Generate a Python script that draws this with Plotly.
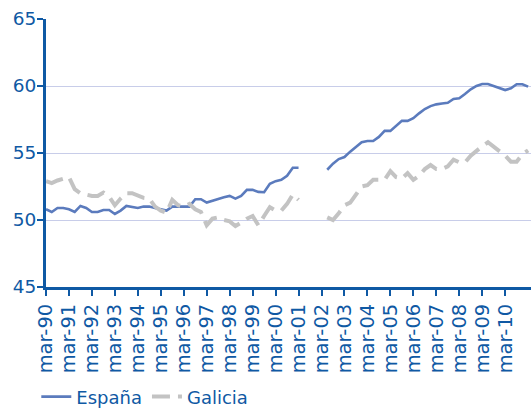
import plotly.graph_objects as go

# Quarterly series, mar-90 .. mar-11 (index 0 = mar-90); None = no data
espana = [
    50.8, 50.6, 50.9, 50.9,   # 1990
    50.8, 50.6, 51.05, 50.9,  # 1991
    50.6, 50.6, 50.75, 50.75, # 1992
    50.45, 50.7, 51.05, 51.0, # 1993
    50.9, 51.0, 51.0, 50.9,   # 1994
    50.8, 50.7, 51.0, 51.0,   # 1995
    51.0, 51.0, 51.55, 51.55, # 1996
    51.3, 51.45, 51.6, 51.7,  # 1997
    51.8, 51.6, 51.8, 52.25,  # 1998
    52.25, 52.1, 52.07, 52.7, # 1999
    52.9, 53.0, 53.3, 53.9,   # 2000
    53.9, None, None, None,   # 2001
    None, 53.75, 54.2, 54.55, # 2002
    54.7, 55.1, 55.47, 55.8,  # 2003
    55.9, 55.9, 56.2, 56.65,  # 2004
    56.65, 57.0, 57.4, 57.4,  # 2005
    57.6, 57.96, 58.28, 58.5, # 2006
    58.63, 58.7, 58.75, 59.03,# 2007
    59.08, 59.4, 59.75, 60.0, # 2008
    60.15, 60.15, 60.0, 59.87,# 2009
    59.7, 59.83, 60.13, 60.13,# 2010
    59.95,                    # 2011
]

galicia = [
    52.9, 52.75, 52.95, 53.1,
    53.2, 52.3, 52.0, 51.9,
    51.8, 51.8, 52.05, 51.75,
    51.1, 51.6, 52.0, 52.0,
    51.85, 51.65, 51.6, 51.0,
    50.7, 50.55, 51.5, 51.1,
    51.0, 51.2, 50.8, 50.6,
    49.6, 50.1, 50.2, 50.0,
    49.9, 49.55, 49.8, 50.1,
    50.3, 49.6, 50.3, 50.95,
    50.7, 50.7, 51.2, 51.9,
    51.5, None, None, None,
    None, 50.2, 50.0, 50.5,
    51.1, 51.3, 51.9, 52.5,
    52.6, 53.0, 53.0, 53.0,
    53.65, 53.2, 53.1, 53.5,
    53.0, 53.3, 53.8, 54.1,
    53.8, 53.8, 54.0, 54.5,
    54.3, 54.3, 54.8, 55.2,
    55.5, 55.8, 55.45, 55.1,
    54.8, 54.35, 54.35, 54.9,
    55.2,
]

tick_labels = ["mar-%02d" % (y % 100) for y in range(1990, 2011)]
tick_pos = [4 * k for k in range(len(tick_labels))]
x = list(range(len(espana)))

axis_blue = "#0f59a4"
font_family = "DejaVu Sans, sans-serif"

fig = go.Figure()
fig.add_trace(go.Scatter(
    x=x, y=espana, name="España", mode="lines",
    line=dict(color="#5b7bbd", width=2.6),
    connectgaps=False,
))
fig.add_trace(go.Scatter(
    x=x, y=galicia, name="Galicia", mode="lines",
    line=dict(color="#c3c3c3", width=4, dash="18px,8px"),
    connectgaps=False,
))

fig.update_layout(
    width=531, height=408,
    margin=dict(l=46, r=0, t=19, b=121, autoexpand=False),
    paper_bgcolor="white", plot_bgcolor="white",
    font=dict(family=font_family, color=axis_blue),
    showlegend=True,
    legend=dict(
        orientation="h", x=-0.02, y=-0.41, xanchor="left", yanchor="middle",
        font=dict(size=18, color=axis_blue), itemwidth=30,
        bgcolor="rgba(0,0,0,0)",
    ),
    xaxis=dict(
        range=[0, 84.5], tickmode="array", tickvals=tick_pos, ticktext=tick_labels,
        tickangle=-90, tickfont=dict(size=19.5, color=axis_blue),
        showgrid=False, zeroline=False, automargin=False,
        showline=True, linecolor=axis_blue, linewidth=3,
        ticks="outside", ticklen=6, tickwidth=1.5, tickcolor=axis_blue,
    ),
    yaxis=dict(
        range=[45, 65], tickvals=[45, 50, 55, 60, 65],
        tickfont=dict(size=18.5, color=axis_blue),
        ticklabelstandoff=-3,
        showgrid=True, gridcolor="#c8cde9", gridwidth=1, zeroline=False,
        automargin=False,
        showline=True, linecolor=axis_blue, linewidth=3,
        ticks="outside", ticklen=6, tickwidth=1.5, tickcolor=axis_blue,
    ),
)

fig.write_html("out.html")
